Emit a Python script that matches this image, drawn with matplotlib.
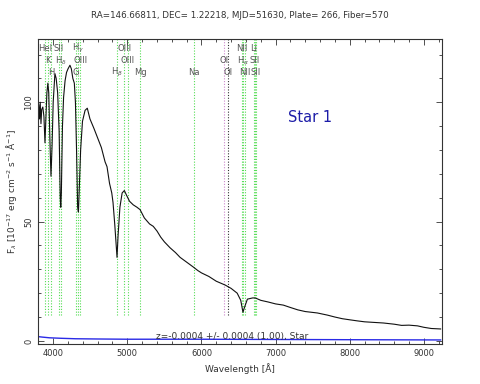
import matplotlib
matplotlib.use("Agg")
import matplotlib.pyplot as plt
from matplotlib.ticker import MultipleLocator

# ---- data ----
wave = [3795, 3805, 3815, 3825, 3835, 3845, 3860, 3875, 3889, 3900, 3915, 3928, 3940,
        3955, 3970, 3985, 4000, 4023, 4040, 4060, 4080, 4095, 4102, 4110, 4125, 4140,
        4160, 4180, 4200, 4226, 4245, 4265, 4285, 4300, 4315, 4330, 4340, 4350, 4370,
        4395, 4430, 4460, 4496, 4550, 4600, 4650, 4700, 4726, 4760, 4790, 4807, 4830,
        4850, 4861, 4875, 4900, 4930, 4960, 4990, 5030, 5080, 5130, 5172, 5230, 5300,
        5350, 5401, 5450, 5500, 5577, 5650, 5712, 5800, 5888, 5950, 6000, 6100, 6200,
        6320, 6400, 6482, 6530, 6560, 6580, 6620, 6690, 6726, 6800, 6900, 7000, 7104,
        7200, 7300, 7400, 7564, 7700, 7800, 7900, 8009, 8100, 8200, 8300, 8455, 8600,
        8700, 8800, 8915, 9000, 9100, 9226]
flux = [96, 99, 93, 100, 91, 97, 98, 94, 83, 92, 104, 108, 104,
        85, 69, 82, 100, 112, 110, 104, 88, 60, 56, 62, 90, 102,
        109, 112.5, 114, 115.5, 114, 110, 108, 100, 80, 56, 54, 62, 80,
        92, 96.6, 97.5, 93, 89, 85, 81, 75, 73, 66, 62, 58, 49,
        40, 35, 44, 56, 62, 63, 61, 58.5, 57, 56, 55, 51.5, 49,
        48, 46, 43.5, 41.5, 39, 37, 35, 33, 31, 29.5, 28.5, 27, 25,
        23.4, 22, 20, 17, 12, 14, 17.5, 18, 18, 17, 16.3, 15.5, 15,
        14, 13, 12.3, 11.7, 10.8, 10, 9.3, 8.8, 8.4, 8, 7.8, 7.5, 7,
        6.5, 6.6, 6.3, 5.7, 5.2, 5]

err_wave = [3795, 3850, 3950, 4100, 4300, 4600, 5000, 6000, 7000, 8000, 9226]
err_flux = [1.8, 1.6, 1.3, 1.1, 0.9, 0.8, 0.7, 0.7, 0.6, 0.5, 0.4]

# line markers: (wavelength, label, row, colour)
line_wave = [3889, 4072, 4340, 4959, 6548, 6707,
             3934, 4102, 4363, 5007, 6300, 6563, 6716,
             3969, 4304, 4861, 5175, 5894, 6363, 6583, 6731]
line_name = ["HeI", "SII", r"H$_\gamma$", "OIII", "NII", "Li",
             "K", r"H$_\delta$", "OIII", "OIII", "OI", r"H$_\alpha$", "SII",
             "H", "G", r"H$_\beta$", "Mg", "Na", "OI", "NII", "SII"]
line_row = [0, 0, 0, 0, 0, 0,
            1, 1, 1, 1, 1, 1, 1,
            2, 2, 2, 2, 2, 2, 2, 2]
line_col = ["#55dd55", "#55dd55", "#55dd55", "#55dd55", "#55dd55", "#55dd55",
            "#55dd55", "#55dd55", "#55dd55", "#55dd55", "#cc88cc", "#55dd55", "#55dd55",
            "#55dd55", "#55dd55", "#55dd55", "#55dd55", "#55dd55", "#333333", "#55dd55", "#55dd55"]

title = "RA=146.66811, DEC= 1.22218, MJD=51630, Plate= 266, Fiber=570"
ztext = "z=-0.0004 +/- 0.0004 (1.00), Star"

# ---- plot ----
fig = plt.figure(figsize=(4.8, 3.84), dpi=100)
ax = fig.add_axes([38/480, 1-344/384, 404/480, 305/384])

row_y = [0.970, 0.928, 0.889]
for w, n, r, c in zip(line_wave, line_name, line_row, line_col):
    ax.axvline(w, ymin=0.095, ymax=1, ls=(0, (1, 1.5)), color=c, lw=0.8, zorder=1)
    ax.text(w, row_y[r], n, transform=ax.get_xaxis_transform(), ha="center", va="center",
            fontsize=6, color="#555555", zorder=3)

ax.plot(err_wave, err_flux, color="#2a2ae6", lw=1.0, zorder=2)
ax.plot(wave, flux, color="#111111", lw=0.8, zorder=2)

ax.set_xlim(3795, 9245)
ax.set_ylim(-1.3, 126.5)
ax.xaxis.set_major_locator(MultipleLocator(1000))
ax.xaxis.set_minor_locator(MultipleLocator(200))
ax.yaxis.set_major_locator(MultipleLocator(50))
ax.yaxis.set_minor_locator(MultipleLocator(10))
ax.tick_params(which="both", direction="in", top=True, right=True, labelsize=6,
               colors="#333333", width=0.6)
ax.tick_params(which="major", length=4)
ax.tick_params(which="minor", length=2)
for lab in ax.get_yticklabels():
    lab.set_rotation(90)
    lab.set_va("center")
for s in ax.spines.values():
    s.set_linewidth(0.8)
    s.set_color("#333333")

ax.set_xlabel("Wavelength [Å]", fontsize=6.5, color="#333333", labelpad=4)
ax.set_ylabel(r"F$_\lambda$ [10$^{-17}$ erg cm$^{-2}$ s$^{-1}$ Å$^{-1}$]",
              fontsize=6.5, color="#333333", labelpad=4)
fig.text(240/480, 1-16/384, title, ha="center", va="center", fontsize=6.3, color="#333333")
ax.text(0.292, 0.023, ztext, transform=ax.transAxes, ha="left", va="center",
        fontsize=6.5, color="#333333")
ax.text(0.619, 0.741, "Star 1", transform=ax.transAxes, ha="left", va="center",
        fontsize=10.5, color="#1c1ca8")

fig.savefig("out.png", dpi=100)
